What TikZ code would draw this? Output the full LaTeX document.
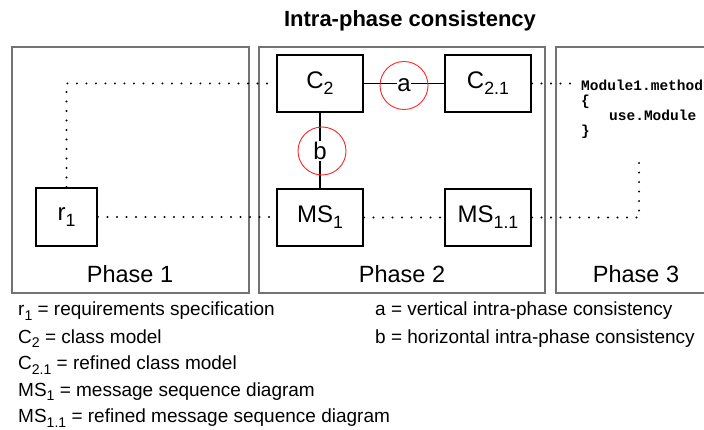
\documentclass[tikz,border=0pt]{standalone}
\usepackage{fontspec}
\setmainfont{Liberation Sans}
\newfontfamily\codefont{Liberation Mono}
\usetikzlibrary{calc}

% lowered, smaller index digits
\newcommand{\lowsub}[1]{\raisebox{-0.24em}{\scalebox{0.74}{#1}}}

\tikzset{
  panel/.style={draw=black!55, line width=1.2pt},
  item/.style={draw=black, line width=1.9pt, minimum width=86pt, minimum height=57pt,
               inner sep=0pt, font=\fontsize{24}{24}\selectfont},
  dotline/.style={line width=2.1pt, line cap=round, dash pattern=on 0pt off 9.5pt},
  link/.style={line width=1.9pt},
  ring/.style={draw=red!85!white, line width=0.9pt, circle, minimum size=48pt, inner sep=0pt},
  tag/.style={fill=white, inner sep=1pt, font=\fontsize{24}{24}\selectfont},
  phase/.style={anchor=base, font=\fontsize{23.5}{24}\selectfont},
  legend/.style={anchor=base west, inner sep=0pt, font=\fontsize{19}{19}\selectfont},
  code/.style={anchor=base west, inner sep=0pt, font=\codefont\bfseries\fontsize{14.5}{15}\selectfont}
}

\begin{document}
\begin{tikzpicture}[x=1pt, y=-1pt]
\useasboundingbox (0,0) rectangle (704,430);
\clip (0,0) rectangle (704,430);

% title
\node[anchor=base, inner sep=0pt, font=\bfseries\fontsize{22}{22}\selectfont] (title) at (410,27) {Intra-phase consistency};

% the three phase panels
\draw[panel] (12,47) rectangle (249,293);
\draw[panel] (259,47) rectangle (545,293);
\draw[panel] (556,47) rectangle (730,293);
\node[phase] (ph1) at (130,283) {Phase 1};
\node[phase] (ph2) at (402,283) {Phase 2};
\node[phase] (ph3) at (636,283) {Phase 3};

% artefacts
\node[item, minimum width=61pt, minimum height=58pt] (r1) at (66.5,217) {r\lowsub{1}};
\node[item] (C2)   at (320,83.5)  {C\lowsub{2}};
\node[item] (C21)  at (488,83.5)  {C\lowsub{2.1}};
\node[item] (MS1)  at (320,217.5) {MS\lowsub{1}};
\node[item] (MS11) at (488,217.5) {MS\lowsub{1.1}};

% code of phase 3
\node[code] (code1) at (581,91)  {Module1.method};
\node[code] (code2) at (581,106) {\{};
\node[code] (code3) at (609,121) {use.Module};
\node[code] (code4) at (581,136) {\}};

% traceability (dotted)
\coordinate (codein) at (573,83.5);
\coordinate (codeout) at (639,155);
\draw[dotline] (r1.north) |- (C2.west);
\draw[dotline] (r1.east) -- (r1.east -| MS1.west);
\draw[dotline] (MS1.east) -- (MS11.west);
\draw[dotline] (C21.east) -- (codein);
\draw[dotline] (MS11.east) -| (codeout);

% consistency relations
\draw[link] (C2.east) -- (C21.west);
\draw[link] (C2.south) -- (MS1.north);
\node[tag, inner sep=0.5pt] (ta) at (404,85) {a};
\node[tag] (tb) at (320,151) {b};
\node[ring] (ra) at (404,85.5) {};
\node[ring] (rb) at (322,151) {};

% legend
\node[legend] (l1) at (18,316) {r\lowsub{1} = requirements specification};
\node[legend] (l2) at (18,343) {C\lowsub{2} = class model};
\node[legend] (l3) at (18,369.5) {C\lowsub{2.1} = refined class model};
\node[legend] (l4) at (18,396) {MS\lowsub{1} = message sequence diagram};
\node[legend] (l5) at (18,422.5) {MS\lowsub{1.1} = refined message sequence diagram};
\node[legend] (la) at (375,316) {a = vertical intra-phase consistency};
\node[legend] (lb) at (375,343) {b = horizontal intra-phase consistency};
\end{tikzpicture}
\end{document}
